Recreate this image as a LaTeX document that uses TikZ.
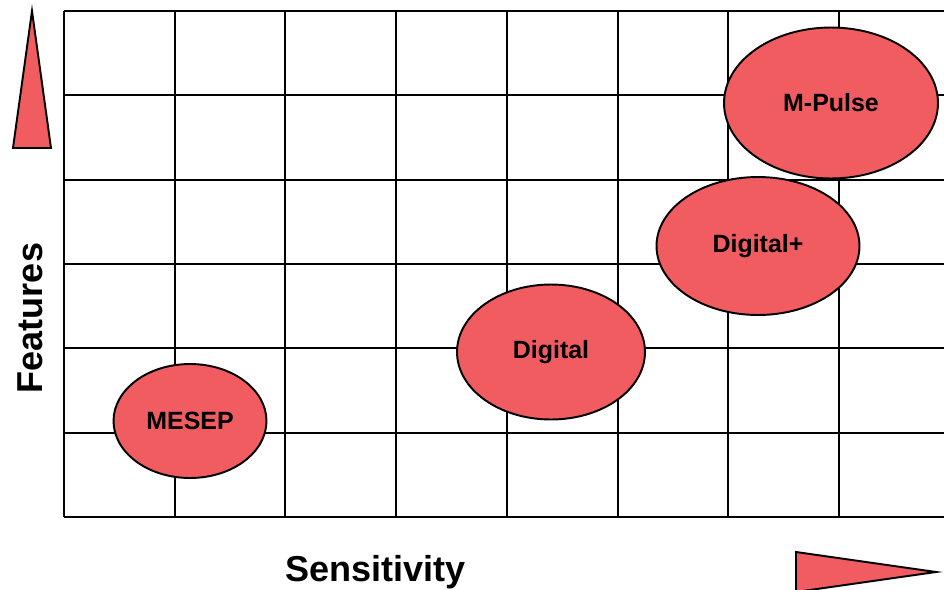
\documentclass[tikz,border=0pt]{standalone}
\usepackage{fontspec}
\setmainfont{Liberation Sans}
\usetikzlibrary{shapes,positioning}
\definecolor{blob}{RGB}{240,92,96}

\begin{document}
\begin{tikzpicture}
[x=0.02cm,y=-0.02cm,
gridline/.style={line width=1.1pt},
product/.style={shape=ellipse,draw=black,fill=blob,line width=1.1pt,inner sep=0pt,
  font=\fontsize{14.2}{16}\selectfont\bfseries},
axislabel/.style={inner sep=0pt,font=\fontsize{20.5}{24}\selectfont\bfseries},
pointer/.style={draw=black,fill=blob,line width=1.1pt,line join=miter}]
\useasboundingbox (0,0) rectangle (944,589);
%%
\foreach \i in {0,...,7}
  \draw[gridline] ({64+\i*110.71},11) -- ({64+\i*110.71},517);
\foreach \j in {0,...,6}
  \draw[gridline] (64,{11+\j*84.33}) -- (944,{11+\j*84.33});
%%
\node (mesep) [product,minimum width=3.06cm,minimum height=2.28cm] at (190,421) {MESEP};
\node (digital) [product,minimum width=3.76cm,minimum height=2.7cm] at (551,352) {Digital};
\node (digitalplus) [product,minimum width=4.06cm,minimum height=2.76cm] at (758,246) {Digital+};
\node (mpulse) [product,minimum width=4.28cm,minimum height=3.02cm] at (831,103) {M-Pulse};
%%
\node (features) [axislabel,rotate=90,anchor=base] at (42,318) {Features};
\node (sensitivity) [axislabel,anchor=base] at (375.5,581) {Sensitivity};
\draw[pointer] (32,11) -- (51,148) -- (13,148) -- cycle;
\draw[pointer] (796,552) -- (936,572) -- (796,592) -- cycle;
\end{tikzpicture}
\end{document}
